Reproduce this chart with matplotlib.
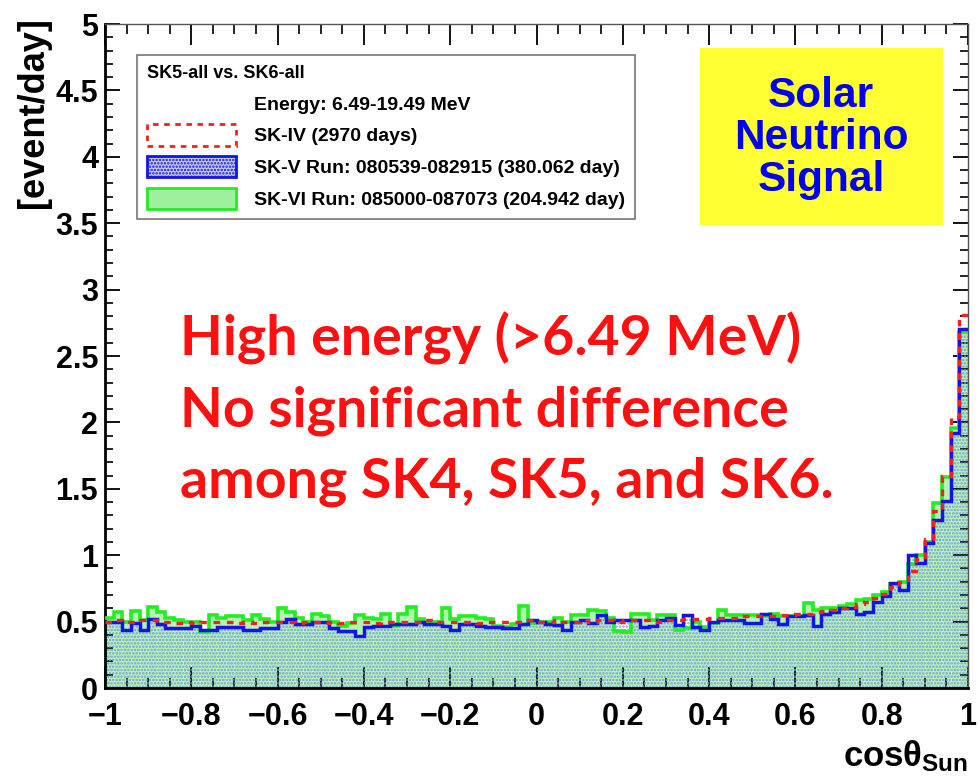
import matplotlib.pyplot as plt
import numpy as np
from matplotlib.patches import Patch, Rectangle
from matplotlib.ticker import MultipleLocator

# cos(theta_sun) histograms, 100 bins from -1 to 1, in events/day
edges = np.linspace(-1, 1, 101)

sk4 = [0.50, 0.51, 0.50, 0.50, 0.51, 0.51, 0.50, 0.50, 0.49, 0.50,
       0.49, 0.50, 0.50, 0.50, 0.50, 0.49, 0.50, 0.49, 0.50, 0.50,
       0.50, 0.50, 0.49, 0.50, 0.50, 0.49, 0.50, 0.49, 0.50, 0.50,
       0.50, 0.49, 0.50, 0.50, 0.50, 0.50, 0.50, 0.51, 0.50, 0.50,
       0.50, 0.50, 0.50, 0.49, 0.50, 0.50, 0.50, 0.50, 0.50, 0.51,
       0.50, 0.50, 0.51, 0.50, 0.50, 0.51, 0.50, 0.51, 0.51, 0.50,
       0.51, 0.51, 0.51, 0.51, 0.50, 0.51, 0.51, 0.52, 0.52, 0.52,
       0.53, 0.53, 0.53, 0.53, 0.54, 0.54, 0.54, 0.54, 0.55, 0.55,
       0.56, 0.56, 0.57, 0.58, 0.59, 0.60, 0.61, 0.63, 0.65, 0.68,
       0.71, 0.76, 0.80, 0.88, 0.97, 1.12, 1.33, 1.60, 2.04, 2.81]

sk5 = [0.50, 0.50, 0.44, 0.49, 0.44, 0.52, 0.48, 0.45, 0.45, 0.45,
       0.47, 0.44, 0.44, 0.46, 0.46, 0.46, 0.44, 0.44, 0.45, 0.45,
       0.50, 0.52, 0.48, 0.48, 0.50, 0.50, 0.45, 0.43, 0.43, 0.39,
       0.46, 0.47, 0.47, 0.48, 0.48, 0.48, 0.50, 0.48, 0.48, 0.47,
       0.44, 0.48, 0.48, 0.47, 0.46, 0.46, 0.45, 0.45, 0.48, 0.51,
       0.50, 0.48, 0.475, 0.44, 0.50, 0.51, 0.49, 0.55, 0.50, 0.51,
       0.51, 0.51, 0.46, 0.47, 0.51, 0.525, 0.475, 0.55, 0.46, 0.44,
       0.50, 0.51, 0.51, 0.51, 0.49, 0.49, 0.56, 0.52, 0.48, 0.54,
       0.54, 0.55, 0.47, 0.56, 0.57, 0.60, 0.60, 0.56, 0.57, 0.65,
       0.69, 0.79, 0.74, 1.00, 0.94, 1.09, 1.265, 1.41, 1.92, 2.70]

sk6 = [0.53, 0.57, 0.50, 0.58, 0.51, 0.61, 0.57, 0.53, 0.51, 0.50,
       0.50, 0.42, 0.55, 0.53, 0.54, 0.54, 0.51, 0.55, 0.52, 0.50,
       0.60, 0.575, 0.53, 0.50, 0.56, 0.54, 0.50, 0.47, 0.49, 0.55,
       0.53, 0.52, 0.56, 0.47, 0.56, 0.61, 0.52, 0.50, 0.50, 0.60,
       0.52, 0.54, 0.54, 0.53, 0.52, 0.47, 0.46, 0.48, 0.62, 0.49,
       0.50, 0.50, 0.525, 0.50, 0.55, 0.55, 0.585, 0.58, 0.525, 0.43,
       0.42, 0.56, 0.56, 0.51, 0.55, 0.55, 0.44, 0.45, 0.50, 0.46,
       0.49, 0.59, 0.55, 0.55, 0.55, 0.55, 0.54, 0.56, 0.54, 0.54,
       0.54, 0.64, 0.59, 0.60, 0.60, 0.62, 0.63, 0.66, 0.67, 0.70,
       0.72, 0.78, 0.80, 0.93, 1.00, 1.10, 1.39, 1.59, 1.96, 2.68]

labels = ["SK-IV (2970 days)",
          "SK-V Run: 080539-082915 (380.062 day)",
          "SK-VI Run: 085000-087073 (204.942 day)"]

xtick_labels = ['\u22121', '\u22120.8', '\u22120.6', '\u22120.4', '\u22120.2', '0',
                '0.2', '0.4', '0.6', '0.8', '1']
ytick_labels = ['0', '0.5', '1', '1.5', '2', '2.5', '3', '3.5', '4', '4.5', '5']

plt.rcParams['font.family'] = ['Liberation Sans', 'DejaVu Sans']
plt.rcParams['font.weight'] = 'bold'
plt.rcParams['hatch.linewidth'] = 1.2
plt.rcParams['mathtext.fontset'] = 'custom'
plt.rcParams['mathtext.rm'] = 'Liberation Sans:bold'
plt.rcParams['mathtext.bf'] = 'Liberation Sans:bold'
plt.rcParams['mathtext.it'] = 'Liberation Sans'

fig = plt.figure(figsize=(9.8, 7.79), dpi=100)
ax = fig.add_axes([105 / 980, 1 - 688 / 779, 863 / 980, 664 / 779])

centers = 0.5 * (edges[:-1] + edges[1:])
width = edges[1] - edges[0]

# filled areas: SK-VI light green, SK-V blue dots on top
ax.bar(centers, sk6, width=width, color='#b2f4b0', edgecolor='#cefacb',
       linewidth=0.8, zorder=1)
ax.stairs(sk5, edges, fill=True, facecolor='none', edgecolor='#7898de',
          hatch='.....', linewidth=0, zorder=2)

# outlines
ax.stairs(sk6, edges, color='#22ee22', linewidth=2.6, zorder=3, baseline=None)
ax.stairs(sk5, edges, color='#1414e6', linewidth=2.5, zorder=4, baseline=None)
ax.stairs(sk4, edges, color='#ee2222', linewidth=2.4, linestyle=(0, (2, 2)),
          zorder=5, baseline=None)

ax.set_xlim(-1, 1)
ax.set_ylim(0, 5)
ax.set_xticks(np.round(np.arange(-1, 1.01, 0.2), 1))
ax.set_xticklabels(xtick_labels, fontsize=22, fontweight='bold')
ax.set_yticks(np.arange(0, 5.01, 0.5))
ax.set_yticklabels(ytick_labels, fontsize=22, fontweight='bold')
ax.xaxis.set_minor_locator(MultipleLocator(0.05))
ax.yaxis.set_minor_locator(MultipleLocator(0.1))
ax.tick_params(axis='x', which='major', direction='in', length=15, width=1.3,
               top=True, pad=10)
ax.tick_params(axis='x', which='minor', direction='in', length=7, width=1.2, top=True)
ax.tick_params(axis='y', which='major', direction='in', length=11, width=1.3,
               right=True, pad=5)
ax.tick_params(axis='y', which='minor', direction='in', length=6, width=1.2, right=True)

for side in ['left', 'bottom']:
    ax.spines[side].set_linewidth(2)
for side in ['right', 'top']:
    ax.spines[side].set_linewidth(1)
    ax.spines[side].set_color('#555555')

fig.text(0.034, 0.978, '[event/day]', rotation=90, ha='center', va='top',
         fontsize=26, fontweight='bold')
fig.text(0.988, 0.006, r'cos$\theta_{\mathrm{Sun}}$', ha='right', va='bottom',
         fontsize=25, fontweight='bold')

# legend box
handles = [Patch(facecolor='none', edgecolor='none'),
           Patch(facecolor='white', edgecolor='#ee2222', linestyle=(0, (2, 2)),
                 linewidth=2),
           Patch(facecolor='#c8cbe8', edgecolor='#1414e6', hatch='.....', linewidth=2),
           Patch(facecolor='#9ef09e', edgecolor='#22ee22', linewidth=2)]
leg = ax.legend(handles, ['Energy: 6.49-19.49 MeV'] + labels,
                title='SK5-all vs. SK6-all', alignment='left',
                loc='upper left', bbox_to_anchor=(137 / 980, 1 - 55 / 779),
                bbox_transform=fig.transFigure, borderaxespad=0,
                fancybox=False, edgecolor='#777777', framealpha=1,
                prop={'size': 14, 'weight': 'bold'},
                title_fontproperties={'size': 13, 'weight': 'bold'},
                handlelength=4.6, handleheight=1.3, handletextpad=0.9,
                labelspacing=0.55, borderpad=0.5)
leg.get_frame().set_linewidth(1.2)
leg.set_zorder(10)

# yellow note box
fig.patches.append(Rectangle((700 / 980, 1 - 225 / 779), 243 / 980, 177 / 779,
                             transform=fig.transFigure, facecolor='#ffff33',
                             edgecolor='none', zorder=10))
fig.text(821 / 980, 1 - 138 / 779, 'Solar\nNeutrino\nSignal', ha='center',
         va='center', color='#0000ee', fontsize=30.5, fontweight='bold',
         linespacing=1.08, zorder=11)

fig.text(180 / 980, 1 - 312 / 779,
         'High energy (>6.49 MeV)\nNo significant difference\namong SK4, SK5, and SK6.',
         ha='left', va='top', color='#ff1010', fontsize=40, fontweight='bold',
         family=['Lato', 'DejaVu Sans'], linespacing=1.5)

fig.savefig('out.png', dpi=100)
